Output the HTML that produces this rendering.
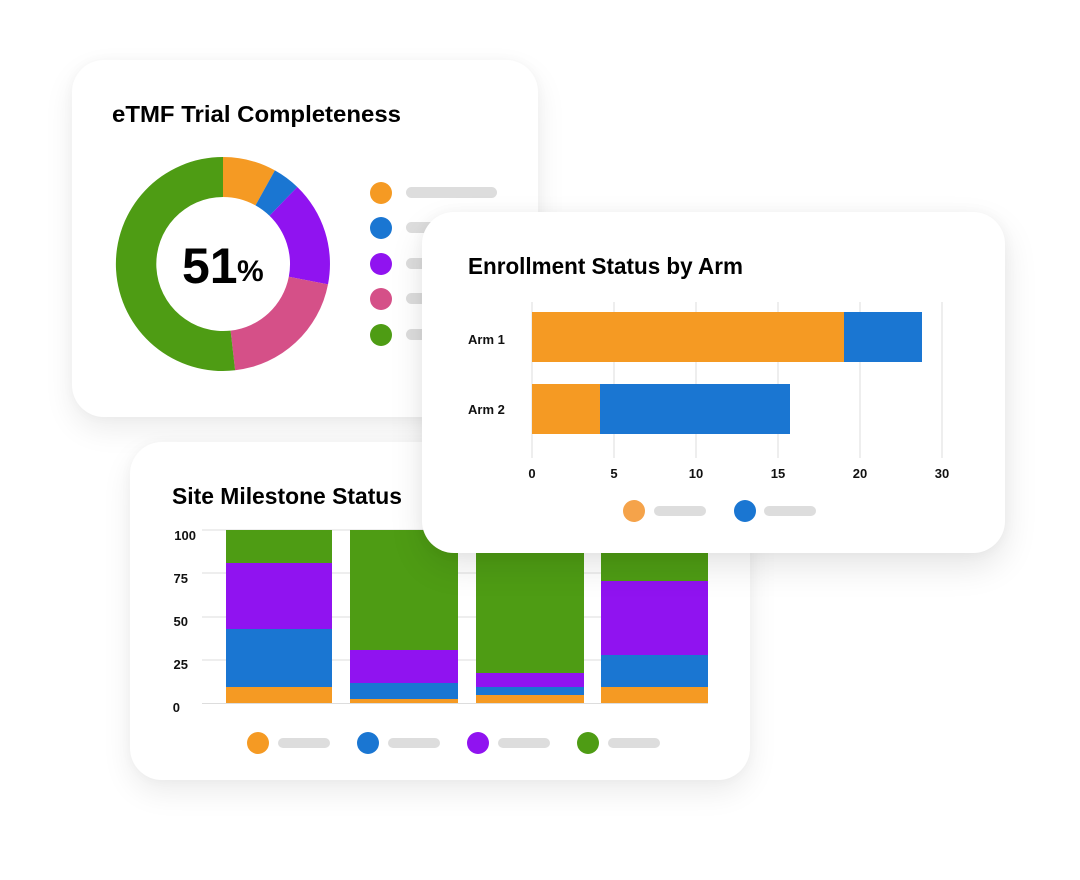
<!DOCTYPE html>
<html><head><meta charset="utf-8"><style>
body{margin:0;width:1080px;height:880px;background:#fff;position:relative;overflow:hidden;font-family:"Liberation Sans",sans-serif}
.card{position:absolute;background:#fff;border-radius:32px;box-shadow:0 12px 30px rgba(0,0,0,0.08),0 0 12px rgba(0,0,0,0.03)}
svg{position:absolute;left:0;top:0}
</style></head><body>
<div class="card" style="left:72px;top:60px;width:466px;height:357px"></div>
<div class="card" style="left:130px;top:442px;width:620px;height:338px"></div>
<svg width="1080" height="880" style="z-index:1">
<g font-family="Liberation Sans" font-weight="bold" fill="#000">
<text x="112" y="122" font-size="23" textLength="289" lengthAdjust="spacingAndGlyphs">eTMF Trial Completeness</text>
<text x="172" y="504" font-size="23" textLength="230" lengthAdjust="spacingAndGlyphs">Site Milestone Status</text>
</g>
<g transform="translate(223,264)">
<path d="M0,-107 A107,107 0 0,1 51.9,-93.6 L32.5,-58.6 A67,67 0 0,0 0,-67Z" fill="#f59a23"/>
<path d="M51.9,-93.6 A107,107 0 0,1 74.3,-77 L46.5,-48.2 A67,67 0 0,0 32.5,-58.6Z" fill="#1a76d2"/>
<path d="M74.3,-77 A107,107 0 0,1 105,20.4 L65.8,12.8 A67,67 0 0,0 46.5,-48.2Z" fill="#9013f0"/>
<path d="M105,20.4 A107,107 0 0,1 12.1,106.3 L7.6,66.6 A67,67 0 0,0 65.8,12.8Z" fill="#d55088"/>
<path d="M12.1,106.3 A107,107 0 1,1 0,-107 L0,-67 A67,67 0 1,0 7.6,66.6Z" fill="#4e9c14"/>
<text x="-41" y="19" font-size="50" font-weight="bold" font-family="Liberation Sans">51</text>
<text x="14" y="17" font-size="30" font-weight="bold" font-family="Liberation Sans">%</text>
</g>
<g>
<circle cx="381" cy="193" r="11" fill="#f59a23"/><circle cx="381" cy="228" r="11" fill="#1a76d2"/><circle cx="381" cy="264" r="11" fill="#9013f0"/><circle cx="381" cy="299" r="11" fill="#d55088"/><circle cx="381" cy="335" r="11" fill="#4e9c14"/>
<rect x="406" y="187" width="91" height="11" rx="5.5" fill="#ddd"/>
<rect x="406" y="222" width="40" height="11" rx="5.5" fill="#ddd"/>
<rect x="406" y="258" width="40" height="11" rx="5.5" fill="#ddd"/>
<rect x="406" y="293" width="40" height="11" rx="5.5" fill="#ddd"/>
<rect x="406" y="329" width="40" height="11" rx="5.5" fill="#ddd"/>
</g>
<g stroke="#ddd" stroke-width="1">
<line x1="202" x2="708" y1="530" y2="530"/><line x1="202" x2="708" y1="573" y2="573"/><line x1="202" x2="708" y1="617" y2="617"/><line x1="202" x2="708" y1="660" y2="660"/><line x1="202" x2="708" y1="703.5" y2="703.5"/>
</g>
<g font-family="Liberation Sans" font-weight="bold" font-size="13" fill="#111" text-anchor="end">
<text x="196" y="540">100</text><text x="188" y="583">75</text><text x="188" y="626">50</text><text x="188" y="669">25</text><text x="180" y="712">0</text>
</g>
<g>
<rect x="226" y="530" width="106" height="33" fill="#4e9c14"/><rect x="226" y="563" width="106" height="66" fill="#9013f0"/><rect x="226" y="629" width="106" height="58" fill="#1a76d2"/><rect x="226" y="687" width="106" height="16" fill="#f59a23"/>
<rect x="350" y="530" width="108" height="120" fill="#4e9c14"/><rect x="350" y="650" width="108" height="33" fill="#9013f0"/><rect x="350" y="683" width="108" height="16" fill="#1a76d2"/><rect x="350" y="699" width="108" height="4" fill="#f59a23"/>
<rect x="476" y="530" width="108" height="143" fill="#4e9c14"/><rect x="476" y="673" width="108" height="14" fill="#9013f0"/><rect x="476" y="687" width="108" height="8" fill="#1a76d2"/><rect x="476" y="695" width="108" height="8" fill="#f59a23"/>
<rect x="601" y="530" width="107" height="51" fill="#4e9c14"/><rect x="601" y="581" width="107" height="74" fill="#9013f0"/><rect x="601" y="655" width="107" height="32" fill="#1a76d2"/><rect x="601" y="687" width="107" height="16" fill="#f59a23"/>
</g>
<g>
<circle cx="258" cy="743" r="11" fill="#f59a23"/><circle cx="368" cy="743" r="11" fill="#1a76d2"/><circle cx="478" cy="743" r="11" fill="#9013f0"/><circle cx="588" cy="743" r="11" fill="#4e9c14"/>
<rect x="278" y="738" width="52" height="10" rx="5" fill="#ddd"/><rect x="388" y="738" width="52" height="10" rx="5" fill="#ddd"/><rect x="498" y="738" width="52" height="10" rx="5" fill="#ddd"/><rect x="608" y="738" width="52" height="10" rx="5" fill="#ddd"/>
</g>
</svg>
<div class="card" style="left:422px;top:212px;width:583px;height:341px;z-index:2;box-shadow:0 14px 34px rgba(0,0,0,0.10),0 0 14px rgba(0,0,0,0.04)"></div>
<svg width="1080" height="880" style="z-index:3">
<text x="468" y="274" font-size="23" font-weight="bold" font-family="Liberation Sans" textLength="275" lengthAdjust="spacingAndGlyphs">Enrollment Status by Arm</text>
<g stroke="#ddd"><line x1="532" x2="532" y1="302" y2="458"/><line x1="614" x2="614" y1="302" y2="458"/><line x1="696" x2="696" y1="302" y2="458"/><line x1="778" x2="778" y1="302" y2="458"/><line x1="860" x2="860" y1="302" y2="458"/><line x1="942" x2="942" y1="302" y2="458"/></g>
<rect x="532" y="312" width="312" height="50" fill="#f59a23"/><rect x="844" y="312" width="78" height="50" fill="#1a76d2"/>
<rect x="532" y="384" width="68" height="50" fill="#f59a23"/><rect x="600" y="384" width="190" height="50" fill="#1a76d2"/>
<g font-family="Liberation Sans" font-weight="bold" font-size="13" fill="#111">
<text x="468" y="344">Arm 1</text><text x="468" y="414">Arm 2</text>
<g text-anchor="middle"><text x="532" y="478">0</text><text x="614" y="478">5</text><text x="696" y="478">10</text><text x="778" y="478">15</text><text x="860" y="478">20</text><text x="942" y="478">30</text></g>
</g>
<circle cx="634" cy="511" r="11" fill="#f5a34a"/><circle cx="745" cy="511" r="11" fill="#1a76d2"/>
<rect x="654" y="506" width="52" height="10" rx="5" fill="#ddd"/><rect x="764" y="506" width="52" height="10" rx="5" fill="#ddd"/>
</svg>
</body></html>
